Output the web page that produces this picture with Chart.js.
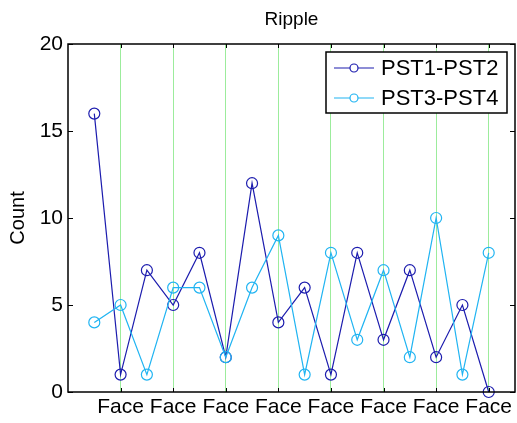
<!DOCTYPE html>
<html>
<head>
<meta charset="utf-8">
<script src="https://cdn.jsdelivr.net/npm/chart.js@4.4.1/dist/chart.umd.min.js"></script>
<style>
  html, body { margin: 0; padding: 0; background: #fff; }
  #wrap { width: 517px; height: 423px; }
</style>
</head>
<body>
<div id="wrap"><canvas id="myChart" width="517" height="423"></canvas></div>
<script>
// x positions of the samples (two per category) and the category ticks
var xPos = [0.5, 1, 1.5, 2, 2.5, 3, 3.5, 4, 4.5, 5, 5.5, 6, 6.5, 7, 7.5, 8];
var xTicks = [1, 2, 3, 4, 5, 6, 7, 8];
var xTickLabel = 'Face';
var yTicks = [0, 5, 10, 15, 20];

var pst12 = [16, 1, 7, 5, 8, 2, 12, 4, 6, 1, 8, 3, 7, 2, 5, 0];
var pst34 = [4, 5, 1, 6, 6, 2, 6, 9, 1, 8, 3, 7, 2, 10, 1, 8];

var seriesNames = ['PST1-PST2', 'PST3-PST4'];
var seriesColors = ['#1c1cae', '#20b4f2'];

var FONT = '"Liberation Sans", Arial, sans-serif';

function toPoints(vals) {
    return vals.map(function (v, i) { return { x: xPos[i], y: v }; });
}

// frame, inward ticks, title and boxed legend
var matlabAxes = {
    id: 'matlabAxes',
    afterDraw: function (chart) {
        var ctx = chart.ctx;
        var a = chart.chartArea;
        var xs = chart.scales.x, ys = chart.scales.y;
        ctx.save();
        ctx.strokeStyle = '#000';
        ctx.lineWidth = 1.5;
        ctx.strokeRect(a.left, a.top, a.right - a.left, a.bottom - a.top);

        ctx.lineWidth = 1;
        ctx.beginPath();
        yTicks.forEach(function (v) {
            var y = Math.round(ys.getPixelForValue(v)) + 0.5;
            ctx.moveTo(a.left, y); ctx.lineTo(a.left + 5, y);
            ctx.moveTo(a.right, y); ctx.lineTo(a.right - 5, y);
        });
        xTicks.forEach(function (v) {
            var x = Math.round(xs.getPixelForValue(v)) + 0.5;
            ctx.moveTo(x, a.bottom); ctx.lineTo(x, a.bottom - 4);
            ctx.moveTo(x, a.top); ctx.lineTo(x, a.top + 4);
        });
        ctx.stroke();

        // title
        ctx.fillStyle = '#000';
        ctx.font = '19px ' + FONT;
        ctx.textAlign = 'center';
        ctx.textBaseline = 'middle';
        ctx.fillText('Ripple', (a.left + a.right) / 2, 20);

        // legend
        var lx = a.right - 189, ly = a.top + 8, lw = 181, lh = 61;
        ctx.fillStyle = '#fff';
        ctx.fillRect(lx, ly, lw, lh);
        ctx.strokeStyle = '#000';
        ctx.lineWidth = 1.5;
        ctx.strokeRect(lx, ly, lw, lh);
        ctx.font = '22px ' + FONT;
        ctx.textAlign = 'left';
        seriesNames.forEach(function (name, i) {
            var cy = ly + 16 + i * 30;
            ctx.strokeStyle = seriesColors[i];
            ctx.lineWidth = 1.2;
            ctx.beginPath();
            ctx.moveTo(lx + 8, cy); ctx.lineTo(lx + 48, cy);
            ctx.stroke();
            ctx.beginPath();
            ctx.arc(lx + 28, cy, 4, 0, Math.PI * 2);
            ctx.fillStyle = '#fff';
            ctx.fill();
            ctx.stroke();
            ctx.fillStyle = '#000';
            ctx.fillText(name, lx + 55, cy + 1);
        });
        ctx.restore();
    }
};

var ctx = document.getElementById('myChart');
var myChart = new Chart(ctx, {
    type: 'line',
    data: {
        datasets: [
            {
                label: seriesNames[0],
                data: toPoints(pst12),
                borderColor: seriesColors[0],
                borderWidth: 1.2,
                pointStyle: 'circle',
                pointRadius: 5.5,
                pointBorderWidth: 1.2,
                pointBorderColor: seriesColors[0],
                pointBackgroundColor: 'rgba(0,0,0,0)',
                tension: 0,
                clip: false,
                order: 1
            },
            {
                label: seriesNames[1],
                data: toPoints(pst34),
                borderColor: seriesColors[1],
                borderWidth: 1.2,
                pointStyle: 'circle',
                pointRadius: 5.5,
                pointBorderWidth: 1.2,
                pointBorderColor: seriesColors[1],
                pointBackgroundColor: 'rgba(0,0,0,0)',
                tension: 0,
                clip: false,
                order: 0
            }
        ]
    },
    options: {
        responsive: false,
        animation: false,
        layout: { autoPadding: false, padding: { top: 44, right: 2, left: 0, bottom: 0 } },
        plugins: {
            legend: { display: false },
            title: { display: false },
            tooltip: { enabled: false }
        },
        scales: {
            x: {
                type: 'linear',
                min: 0,
                max: 8.5,
                afterBuildTicks: function (scale) {
                    scale.ticks = xTicks.map(function (v) { return { value: v }; });
                },
                afterFit: function (scale) {
                    scale.height = 31;
                    scale.paddingLeft = 0;
                    scale.paddingRight = 0;
                },
                grid: { color: '#9cec9c', lineWidth: 1, drawTicks: false },
                border: { display: false },
                ticks: {
                    padding: 3,
                    maxRotation: 0,
                    autoSkip: false,
                    color: '#000',
                    font: { family: FONT, size: 21 },
                    callback: function () { return xTickLabel; }
                }
            },
            y: {
                min: 0,
                max: 20,
                afterBuildTicks: function (scale) {
                    scale.ticks = yTicks.map(function (v) { return { value: v }; });
                },
                afterFit: function (scale) {
                    scale.width = 68;
                    scale.paddingTop = 0;
                    scale.paddingBottom = 0;
                },
                grid: { display: false, drawTicks: false },
                border: { display: false },
                ticks: {
                    padding: 5,
                    color: '#000',
                    font: { family: FONT, size: 21 }
                },
                title: {
                    display: true,
                    text: 'Count',
                    color: '#000',
                    font: { family: FONT, size: 20 },
                    padding: { top: 6, bottom: 0 }
                }
            }
        }
    },
    plugins: [matlabAxes]
});
</script>
</body>
</html>
